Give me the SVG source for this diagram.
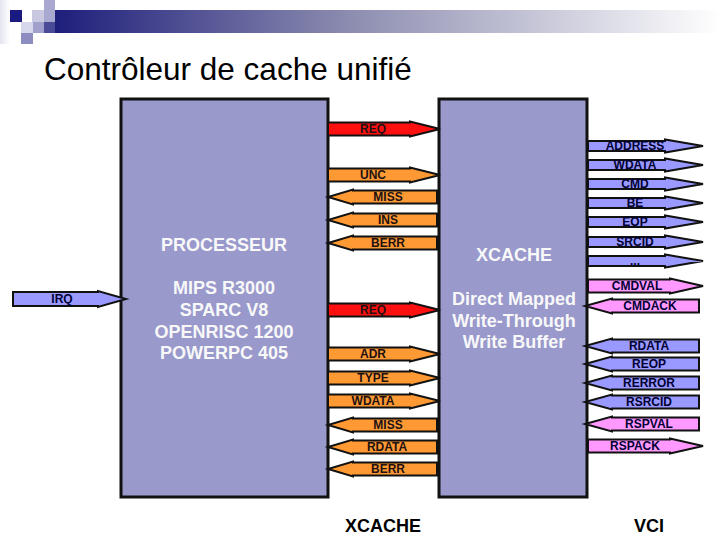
<svg xmlns="http://www.w3.org/2000/svg" xmlns:xlink="http://www.w3.org/1999/xlink" width="720" height="540" viewBox="0 0 720 540">
<style>
.box{fill:#9999CC;stroke:#111;stroke-width:3}
.btxt{font-family:"Liberation Sans",Arial,sans-serif;font-weight:bold;font-size:18px;fill:#F8F8F8;text-anchor:middle}
.arr{stroke:#111;stroke-width:2;stroke-linejoin:miter}
.red{fill:#FF1010}
.org{fill:#FF9933}
.blu{fill:#9999FF}
.pnk{fill:#FF99FF}
.lbl{font-family:"Liberation Sans",Arial,sans-serif;font-weight:bold;font-size:12px;fill:#221111;text-anchor:middle}
.vlbl{font-family:"Liberation Sans",Arial,sans-serif;font-weight:bold;font-size:12px;fill:#000033;text-anchor:middle}
.title{font-family:"Liberation Sans",Arial,sans-serif;font-size:31.5px;fill:#000}
.foot{font-family:"Liberation Sans",Arial,sans-serif;font-weight:bold;font-size:18px;fill:#000;text-anchor:middle}
</style>
<defs>
<linearGradient id="bar" x1="0" y1="0" x2="1" y2="0">
<stop offset="0" stop-color="#1a1a7a"/>
<stop offset="0.45" stop-color="#8c8cb0"/>
<stop offset="1" stop-color="#ffffff"/>
</linearGradient>
<linearGradient id="lband" x1="0" y1="0" x2="1" y2="0">
<stop offset="0" stop-color="#e4e4f0"/>
<stop offset="1" stop-color="#ffffff"/>
</linearGradient>
<polygon id="midR" class="arr" points="328,-6.5 410,-6.5 410,-7.5 440,0 410,7.5 410,6.5 328,6.5"/>
<polygon id="midL" class="arr" points="437,-6.5 353,-6.5 353,-7.5 328,0 353,7.5 353,6.5 437,6.5"/>
<polygon id="vciR" class="arr" points="588,-5 665,-5 665,-6.5 703,0 665,6.5 665,5 588,5"/>
<polygon id="vciRb" class="arr" points="588,-6.5 670,-6.5 670,-7.5 703,0 670,7.5 670,6.5 588,6.5"/>
<polygon id="vciL" class="arr" points="699,-6.5 612,-6.5 612,-7.5 585,0 612,7.5 612,6.5 699,6.5"/>
<polygon id="irqA" class="arr" points="13,-7 98,-7 98,-8 126,0 98,8 98,7 13,7"/>
</defs>

<g id="header">
<rect x="0" y="0" width="10" height="44" fill="url(#lband)"/>
<rect x="44" y="10" width="676" height="23" fill="url(#bar)"/>
<rect x="10" y="10" width="12" height="12" fill="#1a1a80"/>
<rect x="32" y="10" width="12" height="12" fill="#c8c8e0"/>
<rect x="44" y="0" width="11" height="22" fill="#a8a8d0"/>
<rect x="44" y="22" width="11" height="11" fill="#4a4a96"/>
<rect x="21" y="22" width="12" height="11" fill="#d8d8ec"/>
<rect x="33" y="22" width="11" height="11" fill="#a0a0cc"/>
<rect x="21" y="33" width="12" height="11" fill="#8c8cc0"/>
</g>

<text class="title" x="44" y="80">Contrôleur de cache unifié</text>

<g id="processeur">
<rect class="box" x="121" y="99" width="207" height="398"/>
<text class="btxt" x="224" y="251">PROCESSEUR</text>
<text class="btxt" x="224" y="294">MIPS R3000</text>
<text class="btxt" x="224" y="316">SPARC V8</text>
<text class="btxt" x="224" y="338">OPENRISC 1200</text>
<text class="btxt" x="224" y="359">POWERPC 405</text>
</g>

<g id="xcache">
<rect class="box" x="439" y="99" width="148" height="398"/>
<text class="btxt" x="514" y="261">XCACHE</text>
<text class="btxt" x="514" y="305">Direct Mapped</text>
<text class="btxt" x="514" y="327">Write-Through</text>
<text class="btxt" x="514" y="348">Write Buffer</text>
</g>

<g id="connectors">
<use href="#irqA" class="blu" transform="translate(0,299)"/>
<text class="vlbl" x="62" y="303">IRQ</text>

<use href="#midR" class="red" transform="translate(0,129)"/>
<text class="lbl" x="373" y="133">REQ</text>
<use href="#midR" class="org" transform="translate(0,175)"/>
<text class="lbl" x="373" y="179">UNC</text>
<use href="#midL" class="org" transform="translate(0,197)"/>
<text class="lbl" x="388" y="201">MISS</text>
<use href="#midL" class="org" transform="translate(0,220)"/>
<text class="lbl" x="388" y="224">INS</text>
<use href="#midL" class="org" transform="translate(0,243)"/>
<text class="lbl" x="388" y="247">BERR</text>

<use href="#midR" class="red" transform="translate(0,310)"/>
<text class="lbl" x="373" y="314">REQ</text>
<use href="#midR" class="org" transform="translate(0,354)"/>
<text class="lbl" x="373" y="358">ADR</text>
<use href="#midR" class="org" transform="translate(0,378)"/>
<text class="lbl" x="373" y="382">TYPE</text>
<use href="#midR" class="org" transform="translate(0,401)"/>
<text class="lbl" x="373" y="405">WDATA</text>
<use href="#midL" class="org" transform="translate(0,425)"/>
<text class="lbl" x="388" y="429">MISS</text>
<use href="#midL" class="org" transform="translate(0,447)"/>
<text class="lbl" x="387" y="451">RDATA</text>
<use href="#midL" class="org" transform="translate(0,469)"/>
<text class="lbl" x="388" y="473">BERR</text>

<use href="#vciR" class="blu" transform="translate(0,146)"/>
<text class="vlbl" x="635" y="150">ADDRESS</text>
<use href="#vciR" class="blu" transform="translate(0,165)"/>
<text class="vlbl" x="635" y="169">WDATA</text>
<use href="#vciR" class="blu" transform="translate(0,184)"/>
<text class="vlbl" x="635" y="188">CMD</text>
<use href="#vciR" class="blu" transform="translate(0,203)"/>
<text class="vlbl" x="635" y="207">BE</text>
<use href="#vciR" class="blu" transform="translate(0,222)"/>
<text class="vlbl" x="635" y="226">EOP</text>
<use href="#vciR" class="blu" transform="translate(0,242)"/>
<text class="vlbl" x="635" y="246">SRCID</text>
<use href="#vciR" class="blu" transform="translate(0,261)"/>
<text class="vlbl" x="635" y="265">...</text>

<use href="#vciRb" class="pnk" transform="translate(0,286)"/>
<text class="vlbl" x="637" y="290">CMDVAL</text>
<use href="#vciL" class="pnk" transform="translate(0,306)"/>
<text class="vlbl" x="650" y="310">CMDACK</text>
<use href="#vciL" class="blu" transform="translate(0,346)"/>
<text class="vlbl" x="649" y="350">RDATA</text>
<use href="#vciL" class="blu" transform="translate(0,364)"/>
<text class="vlbl" x="649" y="368">REOP</text>
<use href="#vciL" class="blu" transform="translate(0,383)"/>
<text class="vlbl" x="649" y="387">RERROR</text>
<use href="#vciL" class="blu" transform="translate(0,402)"/>
<text class="vlbl" x="649" y="406">RSRCID</text>
<use href="#vciL" class="pnk" transform="translate(0,424)"/>
<text class="vlbl" x="649" y="428">RSPVAL</text>
<use href="#vciRb" class="pnk" transform="translate(0,446)"/>
<text class="vlbl" x="635" y="450">RSPACK</text>
</g>

<text class="foot" x="383" y="532">XCACHE</text>
<text class="foot" x="649" y="532">VCI</text>
</svg>
